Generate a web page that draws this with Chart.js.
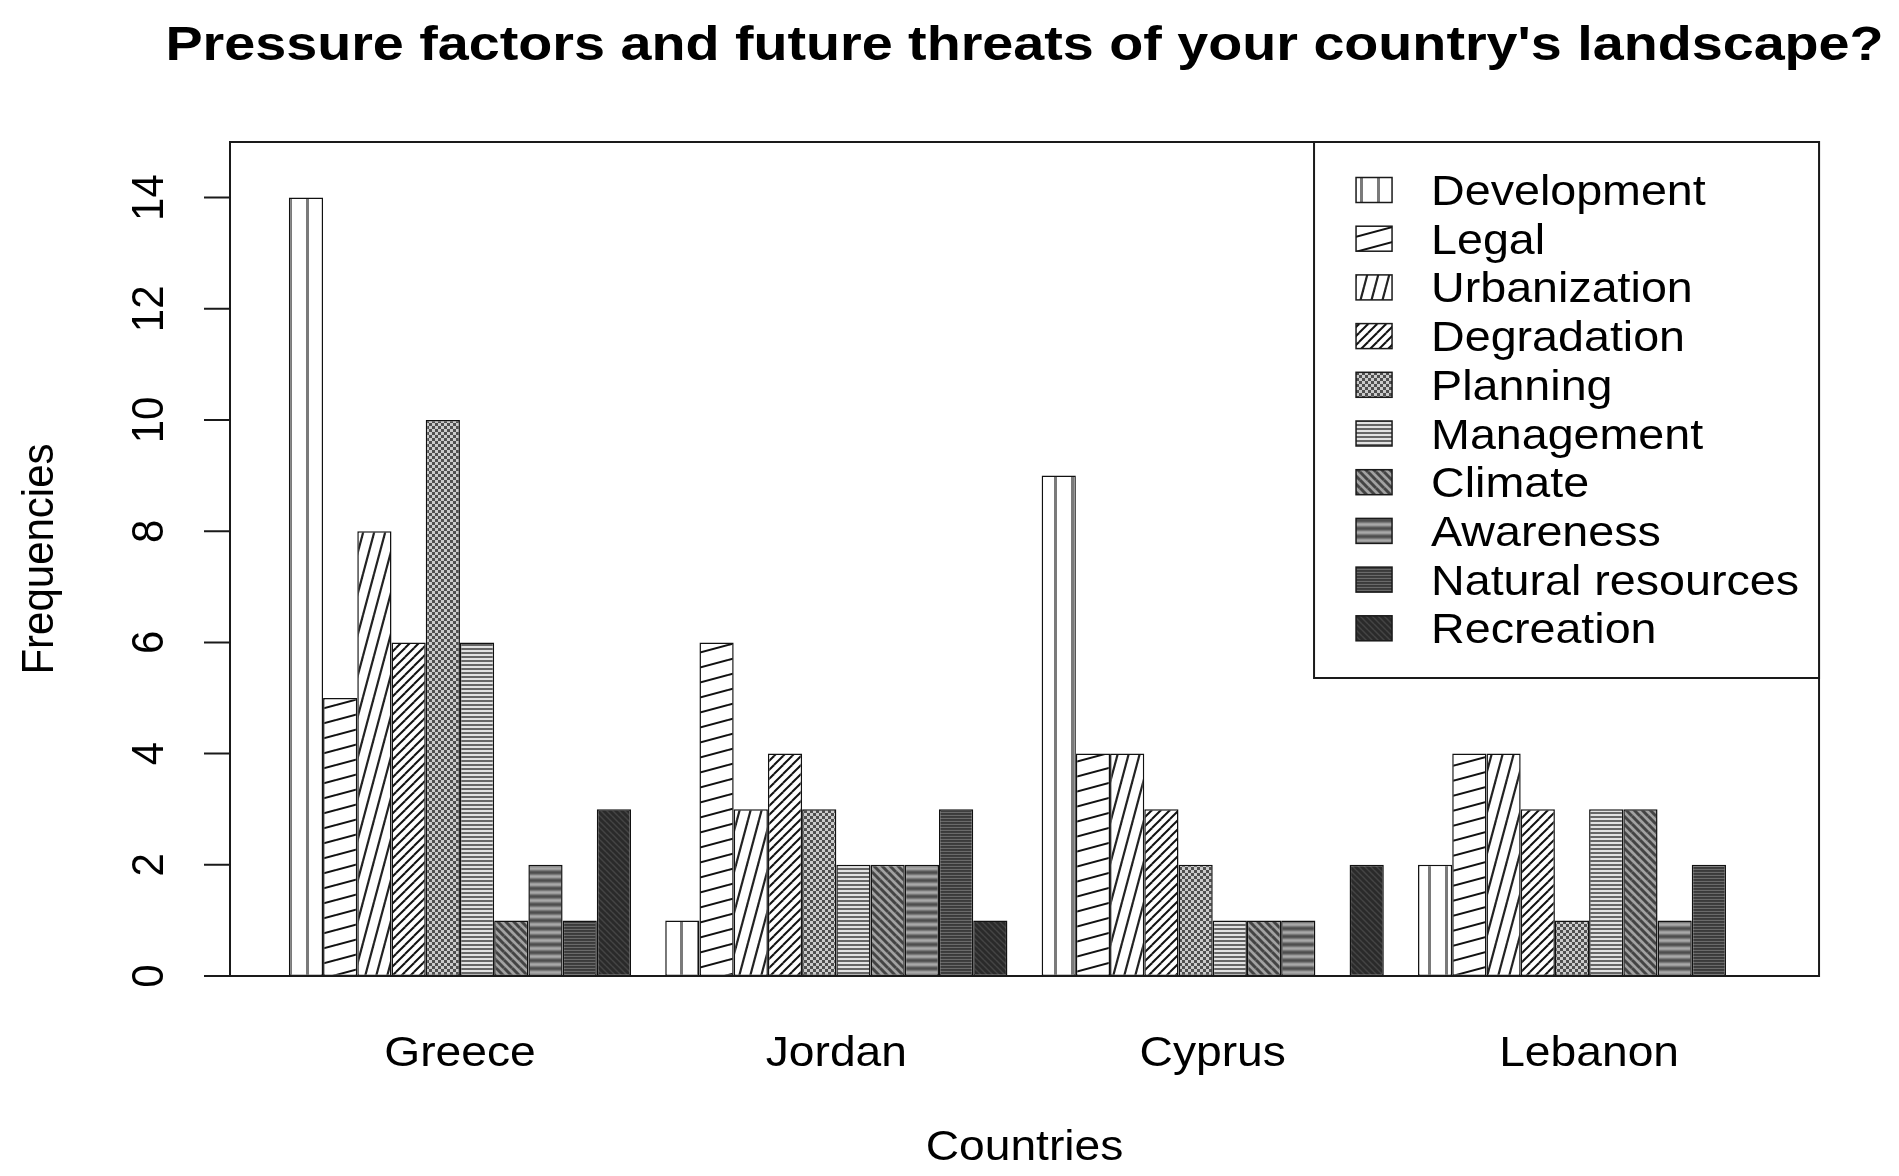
<!DOCTYPE html>
<html>
<head>
<meta charset="utf-8">
<script src="https://cdn.jsdelivr.net/npm/chart.js@4.4.1/dist/chart.umd.min.js"></script>
<style>
  html, body { margin: 0; padding: 0; background: #fff; }
  canvas { display: block; }
</style>
</head>
<body>
<canvas id="myChart" width="1899" height="1176"></canvas>
<script>
const countries = ['Greece', 'Jordan', 'Cyprus', 'Lebanon'];
const factors = ['Development', 'Legal', 'Urbanization', 'Degradation', 'Planning',
  'Management', 'Climate', 'Awareness', 'Natural resources', 'Recreation'];
const development = [14, 1, 9, 2];
const legal = [5, 6, 4, 4];
const urbanization = [8, 3, 4, 4];
const degradation = [6, 4, 3, 3];
const planning = [10, 3, 2, 1];
const management = [6, 2, 1, 3];
const climate = [1, 2, 1, 3];
const awareness = [2, 2, 1, 1];
const naturalResources = [1, 3, 0, 2];
const recreation = [3, 1, 2, 0];
const yTicks = [0, 2, 4, 6, 8, 10, 12, 14];

const titleText = "Pressure factors and future threats of your country's landscape?";
const FONT = "'Liberation Sans', Arial, Helvetica, sans-serif";

var canvas = document.getElementById('myChart');
var ctx = canvas.getContext('2d');

// small tiles used as fill patterns (R density/angle hatching look)
function tile(w, h, bg, paint) {
    let t = document.createElement('canvas');
    t.width = w; t.height = h;
    let g = t.getContext('2d');
    g.fillStyle = bg;
    g.fillRect(0, 0, w, h);
    paint(g, w, h);
    return ctx.createPattern(t, 'repeat');
}
function hatch(g, w, h, color, lw, back) {
    g.strokeStyle = color;
    g.lineWidth = lw;
    for (let dx = -w; dx <= w; dx += w) {
        for (let dy = -h; dy <= h; dy += h) {
            g.beginPath();
            if (back) { g.moveTo(dx, dy); g.lineTo(dx + w, dy + h); }
            else { g.moveTo(dx, dy + h); g.lineTo(dx + w, dy); }
            g.stroke();
        }
    }
}
function rows(g, w, cols) {
    cols.forEach((col, i) => { g.fillStyle = col; g.fillRect(0, i, w, 1); });
}

const fills = [
    tile(17, 4, '#fff', (g) => { g.fillStyle = '#7a7a7a'; g.fillRect(0, 0, 3, 4); }),
    tile(56, 15, '#fff', (g, w, h) => hatch(g, w, h, '#111', 2)),
    tile(11, 41, '#fff', (g, w, h) => hatch(g, w, h, '#222', 2.2)),
    tile(9, 9, '#fff', (g, w, h) => hatch(g, w, h, '#111', 2)),
    tile(6, 6, '#cbcbcb', (g) => { g.fillStyle = '#505050'; g.fillRect(0, 0, 3, 3); g.fillRect(3, 3, 3, 3); }),
    tile(4, 4, '#e2e2e2', (g) => { g.fillStyle = '#666'; g.fillRect(0, 0, 4, 2); }),
    tile(8, 8, '#a2a2a2', (g, w, h) => hatch(g, w, h, '#444', 3, true)),
    tile(4, 8, '#999', (g, w) => rows(g, w, ['#4e4e4e', '#5a5a5a', '#787878', '#9a9a9a', '#a8a8a8', '#9a9a9a', '#787878', '#5a5a5a'])),
    tile(4, 3, '#3c3c3c', (g, w) => rows(g, w, ['#3a3a3a', '#3f3f3f', '#6a6a6a'])),
    tile(6, 6, '#2a2a2a', (g, w, h) => hatch(g, w, h, '#444', 1.5, true)),
];
const series = [development, legal, urbanization, degradation, planning,
    management, climate, awareness, naturalResources, recreation];

function txt(c, s, x, y, opt) {
    c.save();
    c.font = opt.font;
    c.fillStyle = '#000';
    c.textAlign = opt.align || 'center';
    c.textBaseline = 'alphabetic';
    c.translate(x, y);
    if (opt.rot) { c.rotate(-Math.PI / 2); c.scale(1, opt.sx || 1); }
    else c.scale(opt.sx || 1, 1);
    c.fillText(s, 0, 0);
    c.restore();
}

// R style frame: box, y axis ticks, labels, legend
const rFrame = {
    id: 'rFrame',
    afterDraw(chart) {
        const c = chart.ctx, a = chart.chartArea;
        const x = chart.scales.x, y = chart.scales.y;
        const bw = (a.right - a.left) / countries.length / 11;
        const L = a.left - 1.22 * bw, R = a.right + 1.22 * bw;
        const reg = '42px ' + FONT;

        c.save();
        c.strokeStyle = '#1a1a1a';
        c.lineWidth = 2;
        c.strokeRect(L, a.top, R - L, a.bottom - a.top);

        // y axis
        c.beginPath();
        yTicks.forEach(v => {
            const py = y.getPixelForValue(v);
            c.moveTo(L - 26, py); c.lineTo(L, py);
        });
        c.stroke();
        yTicks.forEach(v => {
            txt(c, String(v), L - 67, y.getPixelForValue(v), { font: reg, rot: true, sx: 1.05 });
        });
        txt(c, 'Frequencies', L - 177, (a.top + a.bottom) / 2, { font: reg, rot: true, sx: 1.05 });

        // x labels
        countries.forEach((lab, i) => {
            txt(c, lab, x.getPixelForValue(i), a.bottom + 90, { font: reg, sx: 1.1 });
        });
        txt(c, 'Countries', (L + R) / 2, a.bottom + 184, { font: reg, sx: 1.1 });

        // title
        txt(c, titleText, (L + R) / 2, 60, { font: 'bold 48px ' + FONT, sx: 1.16 });

        // legend
        const lw = 505, lh = 536, lx = R - lw, ly = a.top;
        c.fillStyle = '#fff';
        c.fillRect(lx, ly, lw, lh);
        c.strokeRect(lx, ly, lw, lh);
        chart.data.datasets.forEach((ds, i) => {
            const cy = ly + 48 + i * 48.7;
            c.fillStyle = ds.backgroundColor;
            c.fillRect(R - 463, cy - 12.5, 36, 25);
            c.lineWidth = 1.5;
            c.strokeRect(R - 463, cy - 12.5, 36, 25);
            txt(c, ds.label, R - 388, cy + 15, { font: reg, align: 'left', sx: 1.11 });
        });
        c.restore();
    }
};

var chart = new Chart(ctx, {
    type: 'bar',
    data: {
        labels: countries,
        datasets: factors.map((f, i) => ({
            label: f,
            data: series[i],
            backgroundColor: fills[i],
            borderColor: '#111',
            borderWidth: 1.5,
            borderSkipped: false,
            categoryPercentage: 10 / 11,
            barPercentage: 1,
        }))
    },
    options: {
        responsive: false,
        animation: false,
        layout: { padding: { left: 271.75, right: 121.7, top: 142, bottom: 200 } },
        scales: {
            x: { display: false },
            y: { display: false, min: 0, max: 15 }
        },
        plugins: {
            legend: { display: false },
            title: { display: false },
            tooltip: { enabled: false }
        }
    },
    plugins: [rFrame]
});
</script>
</body>
</html>
